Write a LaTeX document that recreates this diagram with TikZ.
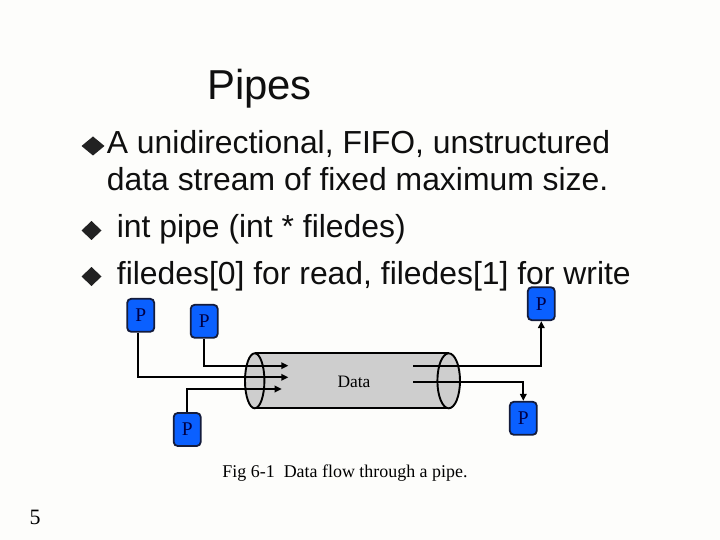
\documentclass[tikz,border=0pt]{standalone}
\usepackage{fontspec}
\setmainfont{Liberation Sans}
\newfontfamily\tnrfont{Liberation Serif}
\usetikzlibrary{arrows.meta}
\definecolor{bgc}{RGB}{253,253,251}
\definecolor{txt}{RGB}{15,15,15}
\definecolor{pblue}{RGB}{10,96,255}
\definecolor{pedge}{RGB}{20,28,60}
\definecolor{pnavy}{RGB}{0,0,70}
\definecolor{pipegray}{RGB}{206,206,206}
\tikzset{
  pbox/.style={draw=pedge, fill=pblue, line width=1.8bp, rounded corners=4bp,
    minimum width=27bp, minimum height=33bp, inner sep=0pt, text=pnavy,
    font=\tnrfont\fontsize{19.5}{19.5}\selectfont},
  bodytext/.style={anchor=base west, inner sep=0pt, text=txt,
    font=\fontsize{32}{36}\selectfont},
  flow/.style={line width=1.9bp, draw=black, -{Triangle[length=7bp,width=6.5bp]}},
  bulletmark/.style={fill=txt!92},
  pipeline/.style={line width=1.9bp, draw=black}
}
\begin{document}
\begin{tikzpicture}[x=1bp,y=-1bp]
\useasboundingbox (0,0) rectangle (720,540);
\fill[bgc] (0,0) rectangle (720,540);

% title
\node[anchor=base west, inner sep=0pt, text=txt, font=\fontsize{42}{46}\selectfont] (title) at (207,100) {Pipes};

% bullets
\fill[bulletmark] (81.5,146) -- (93,136.5) -- (104.5,146) -- (93,155.5) -- cycle;
\fill[bulletmark] (81.5,230.5) -- (91.5,221) -- (101.5,230.5) -- (91.5,240) -- cycle;
\fill[bulletmark] (81.5,276.5) -- (91.5,267) -- (101.5,276.5) -- (91.5,286) -- cycle;

\node[bodytext] (l1) at (106.7,154) {A unidirectional, FIFO, unstructured};
\node[bodytext] (l2) at (106.7,191) {data stream of fixed maximum size.};
\node[bodytext] (l3) at (116.7,238) {int pipe (int * filedes)};
\node[bodytext] (l4) at (116.7,284.5) {filedes[0] for read, filedes[1] for write};

% pipe (cylinder)
\fill[pipegray] (254.7,353.3) rectangle (448.7,408.3);
\draw[pipeline] (254.7,353.3) -- (448.7,353.3);
\draw[pipeline] (254.7,408.3) -- (448.7,408.3);
\draw[pipeline, fill=pipegray] (448.7,380.8) ellipse [x radius=11.3, y radius=27.5];
\draw[pipeline, fill=pipegray] (254.7,380.8) ellipse [x radius=9.7, y radius=27.5];
\node[inner sep=0pt, font=\tnrfont\fontsize{17.5}{17.5}\selectfont, text=black] (data) at (354,382) {Data};

% processes
\node[pbox] (P1) at (140.7,315.3) {P};
\node[pbox] (P2) at (204.2,321.3) {P};
\node[pbox] (P3) at (541.3,303.7) {P};
\node[pbox] (P4) at (523.3,418.3) {P};
\node[pbox] (P5) at (187.2,429.5) {P};

% flow end points
\coordinate (inA) at (288.3,365.7);
\coordinate (inB) at (288.3,377.3);
\coordinate (inC) at (281.7,389);
\coordinate (outA) at (413.3,365.7);
\coordinate (outB) at (413.3,381.7);

\draw[flow] ([xshift=-2.5bp]P1.south) |- (inB);
\draw[flow] (P2.south) |- (inA);
\draw[flow] (P5.north) |- (inC);
\draw[flow] (outA) -| (P3.south);
\draw[flow] (outB) -| (P4.north);

% caption and page number
\node[anchor=base, inner sep=0pt, text=black, font=\tnrfont\fontsize{18}{18}\selectfont] (cap) at (345,477) {Fig 6-1\ \ Data flow through a pipe.};
\node[anchor=base, inner sep=0pt, text=black, font=\tnrfont\fontsize{22}{22}\selectfont] (pnum) at (35,524) {5};
\end{tikzpicture}
\end{document}
